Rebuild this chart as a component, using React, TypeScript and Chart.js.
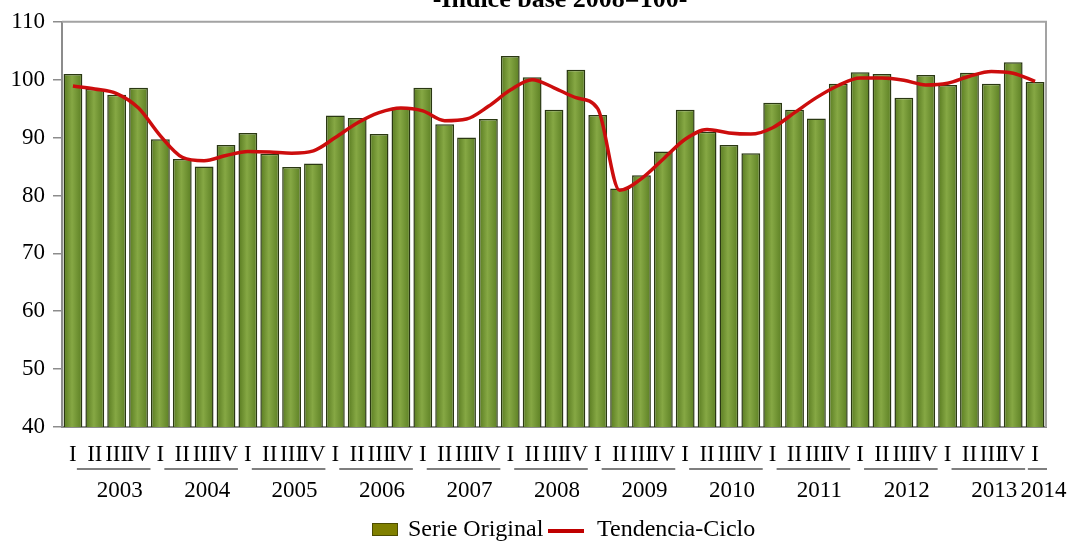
import { useEffect, useRef } from 'react';
import { Chart, registerables } from 'chart.js';

Chart.register(...registerables);

// Quarterly index, 2003-I to 2014-I
const years = ['2003', '2004', '2005', '2006', '2007', '2008', '2009', '2010', '2011', '2012', '2013', '2014'];
const quartersPerYear = [4, 4, 4, 4, 4, 4, 4, 4, 4, 4, 4, 1];
const quarterNames = ['I', 'II', 'III', 'IV'];

const serieOriginal = [
  101.0, 98.4, 97.4, 98.6,
  89.7, 86.3, 85.0, 88.7,
  90.8, 87.2, 84.9, 85.5,
  93.8, 93.4, 90.6, 95.2,
  98.6, 92.3, 90.0, 93.2,
  104.1, 100.4, 94.8, 101.7,
  93.9, 81.2, 83.5, 87.6,
  94.8, 91.0, 88.7, 87.3,
  96.0, 94.8, 93.3, 99.3,
  101.3, 101.0, 96.9, 100.8,
  99.1, 101.2, 99.3, 103.0,
  99.6,
];

const tendenciaCiclo = [
  98.9, 98.4, 97.6, 95.1,
  90.3, 86.6, 86.0, 86.9,
  87.6, 87.5, 87.3, 87.7,
  90.0, 92.5, 94.3, 95.1,
  94.6, 92.9, 93.2, 95.4,
  98.2, 100.0, 98.6, 96.9,
  95.0, 80.9, 82.9, 86.3,
  89.7, 91.4, 90.8, 90.6,
  91.7, 94.3, 96.9, 99.0,
  100.3, 100.3, 99.9, 99.1,
  99.4, 100.6, 101.4, 101.1,
  99.7,
];

const yTicks = [40, 50, 60, 70, 80, 90, 100, 110];

const titleText = '-Índice base 2008=100-';
const legendBar = 'Serie Original';
const legendLine = 'Tendencia-Ciclo';

const quarterLabels: string[] = [];
years.forEach((_, k) => {
  for (let q = 0; q < quartersPerYear[k]; q++) quarterLabels.push(quarterNames[q]);
});

const SERIF = "'Liberation Serif', 'Times New Roman', serif";
const BAR_PCT = 0.86;

// Frame, year grouping under the quarter ticks, legend and title
const decorations = {
  id: 'decorations',
  afterDraw(chart: any) {
    const { ctx, chartArea, scales } = chart;
    const xs = scales.x;
    ctx.save();

    ctx.strokeStyle = '#a3a3a3';
    ctx.lineWidth = 2;
    ctx.beginPath();
    ctx.moveTo(chartArea.left, chartArea.top);
    ctx.lineTo(chartArea.right, chartArea.top);
    ctx.lineTo(chartArea.right, chartArea.bottom);
    ctx.stroke();

    const step = xs.getPixelForValue(1) - xs.getPixelForValue(0);
    let idx = 0;
    ctx.font = `23px ${SERIF}`;
    ctx.fillStyle = '#000';
    ctx.textAlign = 'center';
    ctx.textBaseline = 'alphabetic';
    years.forEach((yr, k) => {
      const n = quartersPerYear[k];
      const left = xs.getPixelForValue(idx) - step / 2;
      const right = xs.getPixelForValue(idx + n - 1) + step / 2;
      const w = right - left;
      const x0 = left + 0.17 * w;
      const x1 = right + 1;
      ctx.strokeStyle = '#555';
      ctx.lineWidth = 1.5;
      ctx.beginPath();
      ctx.moveTo(x0, chartArea.bottom + 42);
      ctx.lineTo(x1, chartArea.bottom + 42);
      ctx.stroke();
      ctx.fillText(yr, (x0 + x1) / 2 + 6, chartArea.bottom + 70);
      idx += n;
    });

    // legend
    const ly = 536;
    ctx.fillStyle = '#808000';
    ctx.fillRect(372, 523, 26, 13);
    ctx.strokeStyle = '#4d4d00';
    ctx.lineWidth = 1;
    ctx.strokeRect(372.5, 523.5, 25, 12);
    ctx.font = `24px ${SERIF}`;
    ctx.fillStyle = '#000';
    ctx.textAlign = 'left';
    ctx.fillText(legendBar, 408, ly);
    ctx.strokeStyle = '#c00000';
    ctx.lineWidth = 4;
    ctx.beginPath();
    ctx.moveTo(548, 531);
    ctx.lineTo(584, 531);
    ctx.stroke();
    ctx.fillText(legendLine, 597, ly);

    // title, partly above the top edge
    ctx.font = `bold 26px ${SERIF}`;
    ctx.textAlign = 'center';
    ctx.fillText(titleText, 560, 7);

    ctx.restore();
  },
};

function barFill(c: any) {
  const fallback = '#6f9431';
  const xs = c.chart.scales?.x;
  if (!xs || c.type !== 'data') return fallback;
  const cx = xs.getPixelForValue(c.dataIndex);
  const half = ((xs.getPixelForValue(1) - xs.getPixelForValue(0)) * BAR_PCT) / 2;
  if (!isFinite(cx) || !isFinite(half) || half <= 0) return fallback;
  const g = c.chart.ctx.createLinearGradient(cx - half, 0, cx + half, 0);
  g.addColorStop(0, '#587a20');
  g.addColorStop(0.45, '#86a844');
  g.addColorStop(1, '#5b7e23');
  return g;
}

export default function App() {
  const canvasRef = useRef<HTMLCanvasElement | null>(null);

  useEffect(() => {
    if (!canvasRef.current) return;
    const chart = new Chart(canvasRef.current, {
      data: {
        labels: quarterLabels,
        datasets: [
          {
            type: 'line',
            label: legendLine,
            data: tendenciaCiclo,
            borderColor: '#cc0d0d',
            borderWidth: 3.5,
            pointRadius: 0,
            cubicInterpolationMode: 'monotone',
            fill: false,
            order: 0,
          },
          {
            type: 'bar',
            label: legendBar,
            data: serieOriginal,
            backgroundColor: barFill,
            borderColor: '#2a3812',
            borderWidth: 1.5,
            barPercentage: BAR_PCT,
            categoryPercentage: 1,
            order: 1,
          },
        ],
      } as any,
      options: {
        responsive: false,
        animation: false,
        devicePixelRatio: 1,
        layout: { padding: { top: 18, right: 23, left: 0, bottom: 0 } },
        plugins: {
          legend: { display: false },
          title: { display: false },
          tooltip: { enabled: false },
        },
        scales: {
          x: {
            type: 'category',
            offset: true,
            grid: { display: true, drawOnChartArea: false, drawTicks: false },
            border: { display: true, color: '#8c8c8c', width: 2 },
            ticks: {
              autoSkip: false,
              maxRotation: 0,
              minRotation: 0,
              padding: 14,
              color: '#000',
              font: { family: SERIF, size: 23 },
            },
            afterFit: (s: any) => {
              s.height = 541 - 427;
            },
          },
          y: {
            min: 40,
            max: 110,
            afterBuildTicks: (s: any) => {
              s.ticks = yTicks.map((v) => ({ value: v }));
            },
            grid: { drawOnChartArea: false, drawTicks: true, tickLength: 9, color: '#8c8c8c', lineWidth: 1.5 },
            border: { display: true, color: '#8c8c8c', width: 2 },
            ticks: {
              padding: 8,
              color: '#000',
              font: { family: SERIF, size: 23 },
            },
            afterFit: (s: any) => {
              s.width = 62;
            },
          },
        },
      },
      plugins: [decorations],
    });
    return () => chart.destroy();
  }, []);

  return (
    <div style={{ position: 'absolute', left: 0, top: 0, width: 1069, height: 541, background: '#fff' }}>
      <canvas ref={canvasRef} width={1069} height={541} />
    </div>
  );
}
